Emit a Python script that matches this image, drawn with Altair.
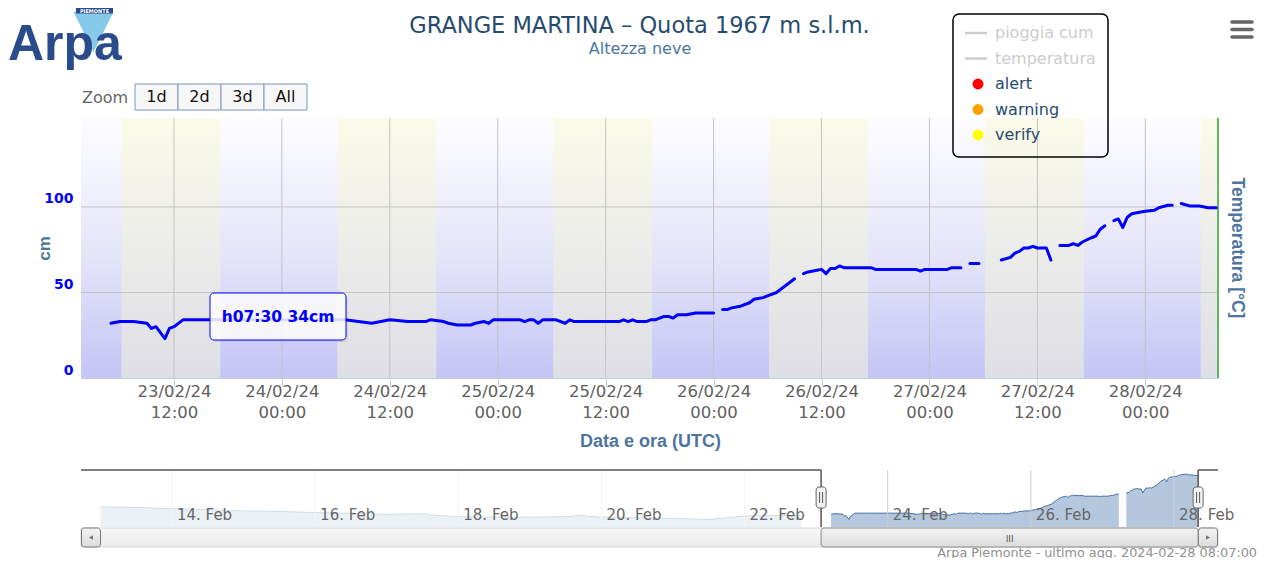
import altair as alt
import pandas as pd

# ------------------------------------------------------------------ data
# snow depth (cm), half-hourly readings; None marks a gap in the record
snow_times = [
    "2024-02-23T05:00", "2024-02-23T06:00", "2024-02-23T07:30", "2024-02-23T09:00", "2024-02-23T09:30",
    "2024-02-23T10:00", "2024-02-23T11:00", "2024-02-23T11:30", "2024-02-23T12:00", "2024-02-23T13:00",
    "2024-02-23T18:00", "2024-02-24T00:00", "2024-02-24T04:00", "2024-02-24T07:00", "2024-02-24T08:30",
    "2024-02-24T10:00", "2024-02-24T11:00", "2024-02-24T12:00", "2024-02-24T14:00", "2024-02-24T16:00",
    "2024-02-24T16:30", "2024-02-24T18:00", "2024-02-24T18:30", "2024-02-24T19:30", "2024-02-24T21:00",
    "2024-02-24T21:30", "2024-02-24T22:30", "2024-02-24T23:00", "2024-02-24T23:30", "2024-02-25T02:30",
    "2024-02-25T03:00", "2024-02-25T03:30", "2024-02-25T04:00", "2024-02-25T04:30", "2024-02-25T05:00",
    "2024-02-25T06:30", "2024-02-25T07:30", "2024-02-25T08:00", "2024-02-25T08:30", "2024-02-25T11:00",
    "2024-02-25T13:30", "2024-02-25T14:00", "2024-02-25T14:30", "2024-02-25T15:00", "2024-02-25T15:30",
    "2024-02-25T16:30", "2024-02-25T17:00", "2024-02-25T17:30", "2024-02-25T18:30", "2024-02-25T19:00",
    "2024-02-25T19:30", "2024-02-25T20:00", "2024-02-25T21:00", "2024-02-25T22:00", "2024-02-26T00:00",
    "2024-02-26T00:30",
    "2024-02-26T01:00", "2024-02-26T01:30", "2024-02-26T02:00", "2024-02-26T03:00", "2024-02-26T04:00",
    "2024-02-26T04:30", "2024-02-26T05:30", "2024-02-26T06:00", "2024-02-26T07:00", "2024-02-26T07:30",
    "2024-02-26T08:30", "2024-02-26T09:00",
    "2024-02-26T09:30",
    "2024-02-26T10:00", "2024-02-26T10:30", "2024-02-26T11:30", "2024-02-26T12:00", "2024-02-26T12:30",
    "2024-02-26T13:00", "2024-02-26T13:30", "2024-02-26T14:00", "2024-02-26T14:30", "2024-02-26T16:00",
    "2024-02-26T17:30", "2024-02-26T18:00", "2024-02-26T20:00", "2024-02-26T22:30", "2024-02-26T23:00",
    "2024-02-26T23:30", "2024-02-27T02:00", "2024-02-27T02:30", "2024-02-27T03:30",
    "2024-02-27T04:00",
    "2024-02-27T04:30", "2024-02-27T05:30",
    "2024-02-27T07:00",
    "2024-02-27T08:00", "2024-02-27T09:00", "2024-02-27T09:30", "2024-02-27T10:00", "2024-02-27T10:30",
    "2024-02-27T11:00", "2024-02-27T11:30", "2024-02-27T12:00", "2024-02-27T13:00", "2024-02-27T13:30",
    "2024-02-27T14:00",
    "2024-02-27T14:30", "2024-02-27T15:30", "2024-02-27T16:00", "2024-02-27T16:30", "2024-02-27T17:00",
    "2024-02-27T18:00", "2024-02-27T18:30", "2024-02-27T19:00", "2024-02-27T19:30",
    "2024-02-27T20:00",
    "2024-02-27T20:30", "2024-02-27T21:00", "2024-02-27T21:30", "2024-02-27T22:00", "2024-02-27T22:30",
    "2024-02-27T23:30", "2024-02-28T00:00", "2024-02-28T01:00", "2024-02-28T01:30", "2024-02-28T02:30",
    "2024-02-28T03:00",
    "2024-02-28T03:30",
    "2024-02-28T04:00", "2024-02-28T05:00", "2024-02-28T06:00", "2024-02-28T07:00", "2024-02-28T08:00",
]
snow_cm = [
    32, 33, 33, 32, 29,
    30, 23, 29, 30, 34,
    34, 34, 34, 34, 33,
    32, 33, 34, 33, 33,
    34, 33, 32, 31, 31,
    32, 33, 32, 34, 34,
    33, 34, 34, 32, 34,
    34, 32, 34, 33, 33,
    33, 34, 33, 34, 33,
    33, 34, 34, 36, 36,
    35, 37, 37, 38, 38,
    None,
    40, 40, 41, 42, 44,
    46, 47, 48, 50, 52,
    56, 58,
    None,
    61, 62, 63, 63.5, 61,
    64, 64, 65.5, 64.5, 64.5,
    64.5, 63.5, 63.5, 63.5, 62.5,
    63.5, 63.5, 64.5, 64.5,
    None,
    67, 67,
    None,
    69, 70.5, 73, 74, 76,
    76, 77, 76, 76, 69,
    None,
    77.5, 77.5, 78.5, 77.5, 79.5,
    82, 83, 87, 89,
    None,
    92, 93, 88, 94, 96,
    97, 97.5, 98, 99.5, 101,
    101,
    None,
    102, 100.5, 100.5, 99.5, 99.5,
]

# earlier record shown only in the navigator (13-22 Feb)
pre_times = [
    "2024-02-13T00:00", "2024-02-13T12:00", "2024-02-14T00:00", "2024-02-14T12:00", "2024-02-15T00:00",
    "2024-02-15T12:00", "2024-02-16T00:00", "2024-02-16T12:00", "2024-02-17T00:00", "2024-02-17T13:00",
    "2024-02-17T14:00", "2024-02-18T00:00", "2024-02-18T12:00", "2024-02-19T00:00", "2024-02-19T12:00",
    "2024-02-19T17:00", "2024-02-20T00:00", "2024-02-20T12:00", "2024-02-21T00:00", "2024-02-21T12:00",
    "2024-02-21T18:00", "2024-02-22T00:00", "2024-02-22T12:00", "2024-02-22T19:00",
    "2024-02-23T00:00",
]
pre_cm = [
    45, 44, 42, 40, 38,
    37, 35, 34, 32, 33,
    31, 28, 27, 27, 28,
    30, 27, 26, 25, 23,
    26, 29, 30, 30,
    None,
]

# daylight bands (UTC)
sunrise_utc = ["2024-02-23T06:10", "2024-02-24T06:10", "2024-02-25T06:10",
               "2024-02-26T06:10", "2024-02-27T06:10", "2024-02-28T06:10"]
sunset_utc = ["2024-02-23T17:10", "2024-02-24T17:10", "2024-02-25T17:10",
              "2024-02-26T17:10", "2024-02-27T17:10", "2024-02-28T17:10"]

x_tick_times = ["2024-02-23T12:00", "2024-02-24T00:00", "2024-02-24T12:00", "2024-02-25T00:00",
                "2024-02-25T12:00", "2024-02-26T00:00", "2024-02-26T12:00", "2024-02-27T00:00",
                "2024-02-27T12:00", "2024-02-28T00:00"]
y_ticks = [0, 50, 100]
y_max = 152

nav_days = ["2024-02-14T00:00", "2024-02-16T00:00", "2024-02-18T00:00", "2024-02-20T00:00",
            "2024-02-22T00:00", "2024-02-24T00:00", "2024-02-26T00:00", "2024-02-28T00:00"]
nav_day_labels = ["14. Feb", "16. Feb", "18. Feb", "20. Feb", "22. Feb", "24. Feb", "26. Feb", "28. Feb"]
nav_cm_range = [10, 109]

view_start = "2024-02-23T01:40"
view_end = "2024-02-28T08:05"
nav_start = "2024-02-12T17:30"
nav_end = "2024-02-28T14:45"

legend_names = ["pioggia cum", "temperatura", "alert", "warning", "verify"]
legend_kinds = ["line", "line", "dot", "dot", "dot"]
legend_colors = ["#cccccc", "#cccccc", "#ff0000", "#ffa000", "#ffff00"]
legend_hidden = [True, True, False, False, False]
zoom_buttons = ["1d", "2d", "3d", "All"]

title_text = "GRANGE MARTINA – Quota 1967 m s.l.m."
subtitle_text = "Altezza neve"
tooltip_text = "h07:30 34cm"
credits_text = "Arpa Piemonte - ultimo agg. 2024-02-28 08:07:00"

# ------------------------------------------------------------------ helpers
W, H = 1137, 260
NAV_TOP, NAV_BOT = 352, 409
SB_TOP, SB_BOT = 410, 429
FONT = "DejaVu Sans"
BOLD2 = "Liberation Sans"


def iso(s):
    return s + ":00Z"


def dt(s):
    ts = pd.Timestamp(s)
    return alt.DateTime(year=ts.year, month=ts.month, date=ts.day,
                        hours=ts.hour, minutes=ts.minute, utc=True)


one = pd.DataFrame({"k": [0]})


def txt(s, x, y, **kw):
    return alt.Chart(one).mark_text(text=s, **kw).encode(x=alt.value(x), y=alt.value(y))


def box(x0, x1, y0, y1, **kw):
    return alt.Chart(one).mark_rect(**kw).encode(
        x=alt.value(x0), x2=alt.value(x1), y=alt.value(y0), y2=alt.value(y1))


def seg_line(x0, x1, y0, y1, **kw):
    return alt.Chart(one).mark_rule(**kw).encode(
        x=alt.value(x0), x2=alt.value(x1), y=alt.value(y0), y2=alt.value(y1))


# main series table: every gap marker breaks the line
rows, seg = [], 0
for t, v in zip(snow_times, snow_cm):
    if v is None:
        seg += 1
        continue
    rows.append({"t": iso(t), "v": v, "seg": seg})
main_df = pd.DataFrame(rows)

# navigator table: only gaps longer than 2 h are visible at that scale
nav_rows, seg, prev, pending = [], 0, None, False
for t, v in zip(pre_times + snow_times, pre_cm + snow_cm):
    if v is None:
        pending = True
        continue
    ts = pd.Timestamp(t)
    if pending and prev is not None and ts - prev > pd.Timedelta(hours=2):
        seg += 1
    pending = False
    nav_rows.append({"t": iso(t), "v": v, "seg": seg})
    prev = ts
nav_df = pd.DataFrame(nav_rows)

bands_df = pd.DataFrame({"a": [iso(s) for s in sunrise_utc], "b": [iso(s) for s in sunset_utc]})
vgrid_df = pd.DataFrame({"t": [iso(s) for s in x_tick_times]})
hgrid_df = pd.DataFrame({"v": y_ticks[1:]})

xs = alt.Scale(type="utc", domain=[dt(view_start), dt(view_end)])
ys = alt.Scale(domain=[0, y_max], nice=False, zero=True)
nxs = alt.Scale(type="utc", domain=[dt(nav_start), dt(nav_end)])
nys = alt.Scale(domain=nav_cm_range, range=[NAV_BOT, NAV_TOP], nice=False, zero=False)

night_grad = alt.LinearGradient(gradient="linear", x1=0, x2=0, y1=0, y2=1, stops=[
    alt.GradientStop(color="#fdfdff", offset=0),
    alt.GradientStop(color="#e6e6fa", offset=0.5),
    alt.GradientStop(color="#c5c5f6", offset=1)])
day_grad = alt.LinearGradient(gradient="linear", x1=0, x2=0, y1=0, y2=1, stops=[
    alt.GradientStop(color="#fbfbe9", offset=0),
    alt.GradientStop(color="#ececea", offset=0.5),
    alt.GradientStop(color="#dedee5", offset=1)])

# ------------------------------------------------------------------ main plot
bg = box(0, W, 0, H, color=night_grad)

bands = alt.Chart(bands_df).mark_rect(color=day_grad, clip=True).encode(
    x=alt.X("a:T", scale=xs, axis=None), x2="b:T", y=alt.value(0), y2=alt.value(H))

vgrid = alt.Chart(vgrid_df).mark_rule(color="#c4c4c4", strokeWidth=1).encode(
    x=alt.X("t:T", scale=xs, axis=None), y=alt.value(0), y2=alt.value(H))

hgrid = alt.Chart(hgrid_df).mark_rule(color="#c4c4c4", strokeWidth=1).encode(
    y=alt.Y("v:Q", scale=ys, axis=None), x=alt.value(0), x2=alt.value(W))

x_axis = alt.Axis(
    values=[dt(s) for s in x_tick_times],
    labelExpr="[utcFormat(datum.value, '%d/%m/%y'), utcFormat(datum.value, '%H:%M')]",
    labelFont=FONT, labelFontSize=16.5, labelColor="#606060", labelLineHeight=21,
    labelPadding=-3, labelFlush=False, labelOverlap=False,
    tickColor="#c0d0e0", tickSize=8, domainColor="#c0d0e0", grid=False,
    title="Data e ora (UTC)", titleFont=BOLD2, titleFontSize=18, titleFontWeight="bold",
    titleColor="#4d759e", titleX=569, titleY=63, titleBaseline="middle", titleAlign="center")
y_axis = alt.Axis(
    values=y_ticks, grid=False, domain=False, ticks=False,
    labelFont=FONT, labelFontSize=14, labelFontWeight="bold", labelColor="#0000ff",
    labelPadding=8, labelOffset=-8,
    title="cm", titleFont=BOLD2, titleFontSize=17, titleFontWeight="bold", titleColor="#4d759e",
    titleX=-37, titleY=130, titleAngle=-90, titleAlign="center", titleBaseline="middle")

line = alt.Chart(main_df).mark_line(
    color="#0000ff", strokeWidth=3, strokeJoin="round", strokeCap="round", clip=True).encode(
    x=alt.X("t:T", scale=xs, axis=x_axis),
    y=alt.Y("v:Q", scale=ys, axis=y_axis),
    detail="seg:N")

right_axis = [
    seg_line(W, W, 0, H, color="#36a836", strokeWidth=1.5),
    txt("Temperatura [°C]", 1156, 130, angle=90, font=BOLD2, fontSize=17.5, fontWeight="bold",
        color="#4d759e", align="center", baseline="middle"),
]

tooltip = [
    box(131, 267, 177, 224, color="#000000", opacity=0.08, cornerRadius=4),
    box(129, 265, 175, 222, fill="#ffffff", fillOpacity=0.85, stroke="#0000ff", strokeWidth=1,
        cornerRadius=4),
    txt(tooltip_text, 197, 198.5, font=FONT, fontSize=15.5, fontWeight="bold", color="#0000ff",
        align="center", baseline="middle"),
]

main_layers = [bg, bands, vgrid, hgrid, line, *right_axis, *tooltip]

# ------------------------------------------------------------------ navigator
sel_df = pd.DataFrame({"t": [iso(view_start), iso(view_end)]})
outside_df = pd.DataFrame({"a": [iso(nav_start), iso(view_end)], "b": [iso(view_start), iso(nav_end)]})
ndays_df = pd.DataFrame({"t": [iso(s) for s in nav_days], "lab": nav_day_labels})
mid_df = pd.DataFrame({"t": [(pd.Timestamp(view_start) + (pd.Timestamp(view_end) - pd.Timestamp(view_start)) / 2)
                             .strftime("%Y-%m-%dT%H:%M:%SZ")]})

nav_area = alt.Chart(nav_df).mark_area(
    color="#4572a7", fillOpacity=0.4, line={"color": "#4572a7", "strokeWidth": 1}).encode(
    x=alt.X("t:T", scale=nxs, axis=None),
    y=alt.Y("v:Q", scale=nys, axis=None, stack=None),
    y2=alt.value(NAV_BOT), detail="seg:N")

nav_grid = alt.Chart(ndays_df).mark_rule(color="#cfcfcf", strokeWidth=1).encode(
    x=alt.X("t:T", scale=nxs, axis=None), y=alt.value(NAV_TOP), y2=alt.value(NAV_BOT))

nav_mask = alt.Chart(outside_df).mark_rect(color="#ffffff", opacity=0.75).encode(
    x=alt.X("a:T", scale=nxs, axis=None), x2="b:T", y=alt.value(NAV_TOP - 1), y2=alt.value(NAV_BOT))

nav_labels = alt.Chart(ndays_df).mark_text(
    align="left", baseline="middle", dx=5, font=FONT, fontSize=15, color="#666666").encode(
    x=alt.X("t:T", scale=nxs, axis=None), y=alt.value(397), text="lab:N")

nav_top = alt.Chart(outside_df).mark_rule(color="#555555", strokeWidth=1.5).encode(
    x=alt.X("a:T", scale=nxs, axis=None), x2="b:T", y=alt.value(NAV_TOP))
nav_sides = alt.Chart(sel_df).mark_rule(color="#555555", strokeWidth=1.5).encode(
    x=alt.X("t:T", scale=nxs, axis=None), y=alt.value(NAV_TOP), y2=alt.value(NAV_BOT))

sb_grad = alt.LinearGradient(gradient="linear", x1=0, x2=0, y1=0, y2=1, stops=[
    alt.GradientStop(color="#f7f7f7", offset=0), alt.GradientStop(color="#ebebeb", offset=1)])
thumb_grad = alt.LinearGradient(gradient="linear", x1=0, x2=0, y1=0, y2=1, stops=[
    alt.GradientStop(color="#f4f4f4", offset=0), alt.GradientStop(color="#dcdcdc", offset=1)])

scroll = [
    box(0, W, SB_TOP, SB_BOT, color=sb_grad, stroke="#d8d8d8", strokeWidth=1),
    box(0.5, 19.5, SB_TOP, SB_BOT, color=thumb_grad, stroke="#777777", strokeWidth=1, cornerRadius=3),
    box(W - 19.5, W - 0.5, SB_TOP, SB_BOT, color=thumb_grad, stroke="#777777", strokeWidth=1, cornerRadius=3),
    alt.Chart(one).mark_point(shape="triangle-left", filled=True, color="#444444", size=22).encode(
        x=alt.value(10), y=alt.value((SB_TOP + SB_BOT) / 2)),
    alt.Chart(one).mark_point(shape="triangle-right", filled=True, color="#444444", size=22).encode(
        x=alt.value(W - 10), y=alt.value((SB_TOP + SB_BOT) / 2)),
]

thumb = alt.Chart(pd.DataFrame({"a": [iso(view_start)], "b": [iso(view_end)]})).mark_rect(
    color=thumb_grad, stroke="#888888", strokeWidth=1, cornerRadius=3).encode(
    x=alt.X("a:T", scale=nxs, axis=None), x2="b:T", y=alt.value(SB_TOP), y2=alt.value(SB_BOT))
grip = alt.Chart(mid_df).mark_text(text="III", font=FONT, fontSize=9, color="#555555",
                                   baseline="middle", align="center").encode(
    x=alt.X("t:T", scale=nxs, axis=None), y=alt.value((SB_TOP + SB_BOT) / 2 + 1))

handles = alt.Chart(sel_df).mark_rect(
    xOffset=-5, x2Offset=5, color="#f2f2f2", stroke="#666666", strokeWidth=1, cornerRadius=3).encode(
    x=alt.X("t:T", scale=nxs, axis=None), x2="t:T", y=alt.value(369), y2=alt.value(390))
handle_l = alt.Chart(sel_df).mark_rule(xOffset=-1.5, color="#555555", strokeWidth=1).encode(
    x=alt.X("t:T", scale=nxs, axis=None), y=alt.value(374), y2=alt.value(385))
handle_r = alt.Chart(sel_df).mark_rule(xOffset=1.5, color="#555555", strokeWidth=1).encode(
    x=alt.X("t:T", scale=nxs, axis=None), y=alt.value(374), y2=alt.value(385))

nav_layers = [nav_area, nav_grid, nav_mask, nav_labels, nav_top, nav_sides,
              *scroll, thumb, grip, handles, handle_l, handle_r]

# ------------------------------------------------------------------ page furniture
titles = [
    txt(title_text, 558.5, -92, font=FONT, fontSize=22.5, color="#274b6d", align="center", baseline="middle"),
    txt(subtitle_text, 559, -69, font=FONT, fontSize=16, color="#4d759e", align="center", baseline="middle"),
]

logo = [
    alt.Chart(one).mark_point(shape="M-1,-1L1,-1L0,1Z", filled=True, color="#86c9e8", opacity=1,
                              size=1600).encode(x=alt.value(12.5), y=alt.value(-86)),
    box(-5, 32, -110, -104.5, color="#2b4c8c"),
    txt("PIEMONTE", 13.5, -107.3, font=FONT, fontSize=5, fontWeight="bold", color="#ffffff",
        align="center", baseline="middle"),
    txt("Arpa", -73, -58, font=BOLD2, fontSize=50, fontWeight="bold", color="#2b4c8c",
        align="left", baseline="alphabetic"),
]

zoom_ui = [txt("Zoom", 1, -20, font=FONT, fontSize=16, color="#666666", align="left", baseline="middle")]
for i, lab in enumerate(zoom_buttons):
    x0 = 54 + 43 * i
    zoom_ui.append(box(x0, x0 + 43, -34, -8, fill="#f7f7f7", stroke="#7d96bb", strokeWidth=1))
    zoom_ui.append(txt(lab, x0 + 21.5, -21, font=FONT, fontSize=16, color="#111111",
                       align="center", baseline="middle"))

legend = [box(872, 1027, -104, 39, fill="#ffffff", fillOpacity=0, stroke="#000000", strokeWidth=1.5,
              cornerRadius=6)]
for i, (name, kind, col, hid) in enumerate(zip(legend_names, legend_kinds, legend_colors, legend_hidden)):
    yy = -85 + 25.5 * i
    if kind == "line":
        legend.append(seg_line(884, 906, yy, yy, color=col, strokeWidth=2.5))
    else:
        legend.append(alt.Chart(one).mark_point(filled=True, color=col, opacity=1, size=120).encode(
            x=alt.value(897), y=alt.value(yy)))
    legend.append(txt(name, 914, yy, font=FONT, fontSize=16, color="#cccccc" if hid else "#274b6d",
                      align="left", baseline="middle"))

menu = [seg_line(1151, 1171, yy, yy, color="#666666", strokeWidth=3.5, strokeCap="round")
        for yy in (-96, -88.5, -81)]

credits = txt(credits_text, 1176, 438.5, font=FONT, fontSize=12.8, color="#909090",
              align="right", baseline="alphabetic")

furniture = [*titles, *logo, *zoom_ui, *legend, *menu, credits]

chart = alt.layer(*main_layers, *nav_layers, *furniture).resolve_scale(
    x="independent", y="independent").properties(
    width=W, height=H,
    autosize=alt.AutoSizeParams(type="none"),
    padding={"left": 73, "top": 110, "right": 43, "bottom": 180},
).configure_view(stroke="#c4c4c4", strokeWidth=1).configure(font=FONT)

chart.save("out.html", embed_options={"renderer": "svg", "actions": False})
